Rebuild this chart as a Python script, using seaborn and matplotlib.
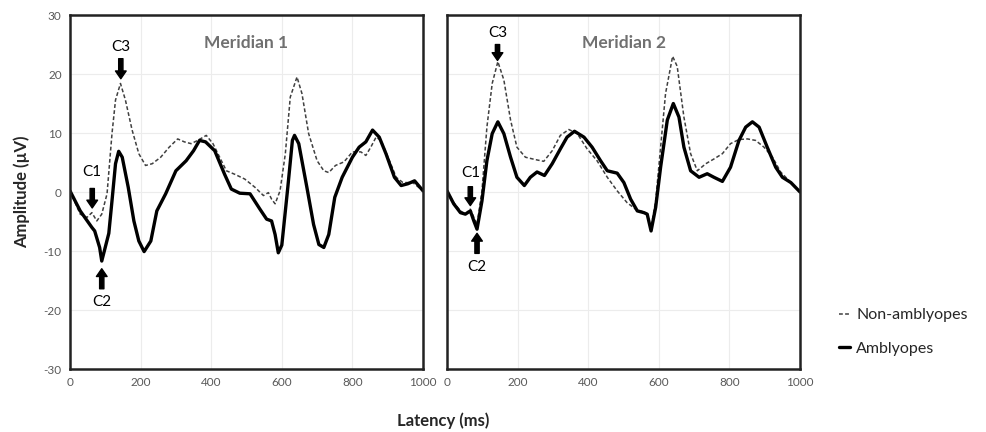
import pandas as pd
import matplotlib
matplotlib.use("Agg")
import matplotlib.pyplot as plt
import seaborn as sns

# Meridian 1 - amblyopes (solid)
m1_amb_t = [0, 29, 62, 70, 84, 90, 110, 119, 129, 138, 148, 165, 181, 195, 210, 229, 246, 271,
            300, 329, 350, 367, 384, 410, 438, 457, 481, 510, 538, 557, 571, 581, 590, 600, 617,
            630, 636, 648, 671, 690, 705, 719, 733, 750, 771, 800, 819, 838, 857, 876, 895, 919,
            938, 957, 976, 1000]
m1_amb_v = [0.2, -3.2, -6.0, -6.6, -9.4, -11.7, -7.0, -1.5, 4.8, 6.9, 5.9, 0.8, -4.9, -8.3, -10.1,
            -8.3, -3.2, -0.3, 3.6, 5.3, 7.0, 8.75, 8.5, 7.0, 3.0, 0.5, -0.2, -0.3, -2.9, -4.6, -4.9,
            -7.2, -10.3, -9.0, 0.8, 8.75, 9.6, 8.2, 0.8, -5.5, -8.9, -9.4, -7.2, -0.9, 2.5, 5.9,
            7.6, 8.5, 10.5, 9.3, 6.5, 2.5, 1.1, 1.4, 1.9, 0.2]

# Meridian 1 - non-amblyopes (dashed)
m1_non_t = [0, 29, 48, 62, 76, 90, 105, 119, 129, 143, 157, 176, 195, 214, 233, 257, 281, 305,
            324, 343, 362, 386, 405, 424, 443, 467, 495, 524, 548, 562, 571, 581, 595, 610, 624,
            643, 657, 676, 700, 719, 733, 752, 776, 800, 824, 838, 852, 867, 881, 905, 924, 943,
            971, 1000]
m1_non_v = [0.2, -3.75, -4.3, -3.5, -4.9, -3.75, -0.3, 9.9, 15.6, 18.4, 15.6, 10.5, 6.5, 4.5, 4.8,
            5.9, 7.6, 9.0, 8.5, 8.2, 8.75, 9.6, 8.2, 5.9, 3.6, 3.0, 2.2, 0.8, -0.6, -0.1, -1.2,
            -2.0, 0.2, 6.5, 16.1, 19.5, 16.7, 9.9, 5.3, 3.6, 3.3, 4.5, 5.1, 6.8, 6.8, 6.2, 7.6,
            9.3, 8.75, 5.3, 2.5, 1.6, 1.6, 0.2]

# Meridian 2 - amblyopes (solid)
m2_amb_t = [0, 19, 38, 52, 66, 76, 85, 99, 113, 128, 144, 161, 180, 198, 219, 236, 255, 276,
            298, 321, 340, 361, 388, 411, 435, 454, 482, 501, 520, 539, 558, 567, 578, 591, 605,
            624, 641, 657, 671, 690, 714, 737, 756, 780, 803, 827, 846, 865, 884, 907, 931, 950,
            974, 1000]
m2_amb_v = [0.2, -2.0, -3.5, -3.75, -3.2, -4.9, -6.3, -1.5, 5.3, 9.9, 11.9, 9.9, 5.9, 2.5, 1.1,
            2.5, 3.4, 2.8, 4.8, 7.3, 9.3, 10.3, 9.3, 7.6, 5.3, 3.6, 3.2, 1.6, -1.2, -3.2, -3.5,
            -3.75, -6.6, -2.6, 4.2, 12.2, 15.0, 12.7, 7.6, 3.6, 2.5, 3.1, 2.5, 1.8, 4.2, 8.75,
            11.0, 11.9, 11.0, 7.6, 4.2, 2.5, 1.6, 0.0]

# Meridian 2 - non-amblyopes (dashed)
m2_non_t = [0, 19, 38, 52, 66, 76, 85, 99, 113, 128, 144, 161, 180, 198, 222, 250, 274, 298,
            321, 345, 369, 397, 425, 454, 482, 510, 534, 553, 567, 578, 591, 605, 619, 639, 652,
            671, 690, 709, 733, 756, 780, 803, 827, 851, 874, 898, 922, 945, 974, 1000]
m2_non_v = [0.2, -1.8, -3.2, -3.75, -2.9, -4.3, -5.5, 0.2, 11.0, 18.4, 22.1, 19.0, 12.2, 7.6,
            5.9, 5.5, 5.2, 7.0, 9.6, 10.6, 9.9, 7.3, 5.3, 2.5, 0.2, -1.8, -2.9, -3.3, -3.75, -6.0,
            -1.5, 7.6, 16.7, 23.0, 21.3, 12.7, 6.5, 3.6, 4.8, 5.6, 6.5, 8.2, 8.9, 9.0, 8.75, 7.6,
            5.9, 3.4, 1.6, 0.0]

panel_titles = ["Meridian 1", "Meridian 2"]
series_names = ["Non-amblyopes", "Amblyopes"]
x_ticks = [0, 200, 400, 600, 800, 1000]
y_ticks = [-30, -20, -10, 0, 10, 20, 30]

# peak labels: (label, x, text y, arrow tail y, arrow tip y)
m1_peaks = [("C1", 63, 3.4, 0.6, -2.7), ("C2", 90, -18.6, -16.4, -13.0), ("C3", 144, 24.6, 22.6, 19.2)]
m2_peaks = [("C1", 66, 3.2, 0.9, -2.3), ("C2", 85, -12.7, -10.4, -7.0), ("C3", 143, 26.9, 25.0, 22.3)]

sns.set_style("white")
plt.rcParams['font.family'] = ['Lato', 'DejaVu Sans']
plt.rcParams['axes.unicode_minus'] = False

fig = plt.figure(figsize=(9.87, 4.32), dpi=100)
ax1 = fig.add_axes([0.0709, 0.1458, 0.3577, 0.8194])
ax2 = fig.add_axes([0.4529, 0.1458, 0.3577, 0.8194])

panels = [
    (ax1, m1_non_t, m1_non_v, m1_amb_t, m1_amb_v, m1_peaks),
    (ax2, m2_non_t, m2_non_v, m2_amb_t, m2_amb_v, m2_peaks),
]

for i, (ax, nt, nv, at, av, peaks) in enumerate(panels):
    df_non = pd.DataFrame({"t": nt, "v": nv})
    df_amb = pd.DataFrame({"t": at, "v": av})
    sns.lineplot(data=df_non, x="t", y="v", ax=ax, color="#404040", lw=1.1,
                 linestyle=(0, (2.5, 1.5)), label=series_names[0] if i == 0 else None)
    sns.lineplot(data=df_amb, x="t", y="v", ax=ax, color="black", lw=2.4,
                 label=series_names[1] if i == 0 else None)

    ax.set_xlim(0, 1000)
    ax.set_ylim(-30, 30)
    ax.set_xticks(x_ticks)
    ax.set_yticks(y_ticks)
    ax.grid(True, color="#ececec", lw=0.8)
    ax.tick_params(axis="both", length=0, labelsize=8.5, labelcolor="#595959", pad=6)
    if i == 1:
        ax.set_yticklabels([])
    for sp in ax.spines.values():
        sp.set_color("#222222")
        sp.set_linewidth(1.8)
    ax.set_xlabel("")
    ax.set_ylabel("")
    if ax.get_legend() is not None:
        ax.get_legend().remove()

    ax.text(500, 25.3, panel_titles[i], ha="center", va="center", fontsize=12.5,
            fontweight="bold", color="#707070")

    for name, px, ty, y0, y1 in peaks:
        ax.text(px, ty, name, ha="center", va="center", fontsize=11, color="black")
        ax.annotate("", xy=(px, y1), xytext=(px, y0),
                    arrowprops=dict(arrowstyle="simple,head_length=0.4,head_width=0.55,tail_width=0.22",
                                    fc="black", ec="black", mutation_scale=14, shrinkA=0, shrinkB=0))

fig.text(0.0223, 0.556, "Amplitude (µV)", rotation=90, ha="center", va="center",
         fontsize=12, fontweight="bold")
fig.text(0.449, 0.026, "Latency (ms)", ha="center", va="center", fontsize=12, fontweight="bold")

handles, labels = ax1.get_legend_handles_labels()
fig.legend(handles, labels, loc="center left", bbox_to_anchor=(0.835, 0.232), frameon=False,
           handlelength=0.7, handletextpad=0.4, labelspacing=1.2, fontsize=11.5)

fig.savefig("out.png", dpi=100)
